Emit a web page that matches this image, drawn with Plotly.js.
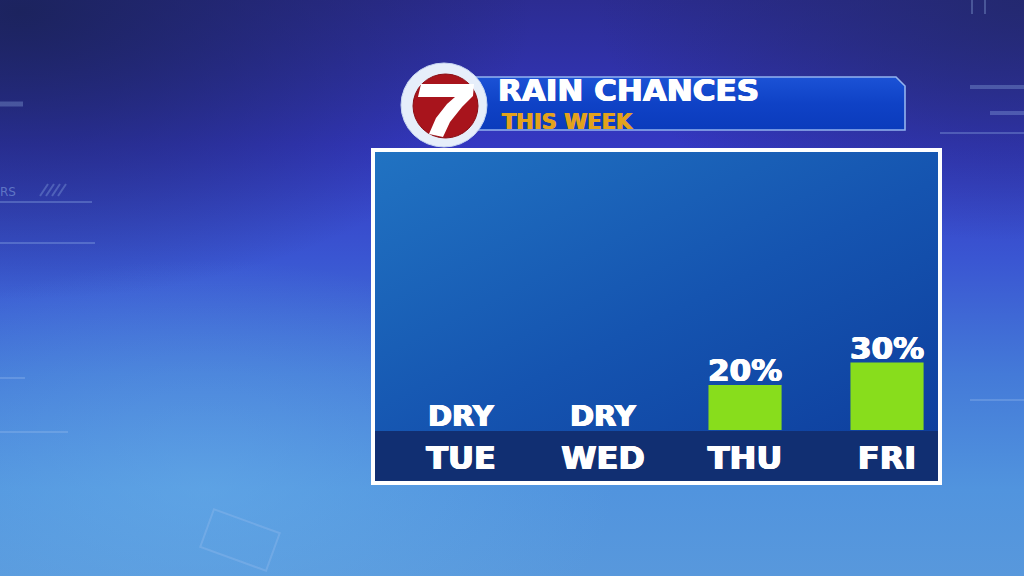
<!DOCTYPE html>
<html>
<head>
<meta charset="utf-8">
<script src="https://cdn.plot.ly/plotly-3.0.1.min.js"></script>
<style>
html,body{margin:0;padding:0;width:1024px;height:576px;overflow:hidden;background:#3a5ccf;}
#chart{width:1024px;height:576px;}
</style>
</head>
<body>
<div id="chart"></div>
<script>
// ---- data ----
const days = ["TUE", "WED", "THU", "FRI"];
const rainChance = [0, 0, 20, 30];
const barLabels = ["DRY", "DRY", "20%", "30%"];
const titleText = "RAIN CHANCES";
const subtitleText = "THIS WEEK";

// ---- helpers (pixel -> paper) ----
const W = 1024, H = 576;
const px = x => x / W;
const py = y => 1 - y / H;
const svgURI = s => "data:image/svg+xml;charset=utf-8," + encodeURIComponent(s);
function pathPx(pts) {
  return "M" + pts.map(p => px(p[0]).toFixed(5) + "," + py(p[1]).toFixed(5)).join(" L") + " Z";
}

const bgSVG = "<svg xmlns='http://www.w3.org/2000/svg' width='1024' height='576' viewBox='0 0 1024 576' preserveAspectRatio='none'>" +
  "<defs>" +
  "<linearGradient id='g' x1='0' y1='0' x2='0' y2='1'>" +
  "<stop offset='0' stop-color='#2c2c92'/>" +
  "<stop offset='0.25' stop-color='#3438c2'/>" +
  "<stop offset='0.45' stop-color='#3a56d2'/>" +
  "<stop offset='0.65' stop-color='#447ad8'/>" +
  "<stop offset='0.85' stop-color='#5194de'/>" +
  "<stop offset='1' stop-color='#5898dc'/>" +
  "</linearGradient>" +
  "<radialGradient id='d' cx='0.02' cy='0.02' r='0.5'>" +
  "<stop offset='0' stop-color='#1a2258' stop-opacity='0.9'/>" +
  "<stop offset='1' stop-color='#1a2258' stop-opacity='0'/>" +
  "</radialGradient>" +
  "<radialGradient id='d2' cx='1' cy='0' r='0.42'>" +
  "<stop offset='0' stop-color='#22286a' stop-opacity='0.85'/>" +
  "<stop offset='1' stop-color='#22286a' stop-opacity='0'/>" +
  "</radialGradient>" +
  "<radialGradient id='l' cx='0.2' cy='0.85' r='0.4'>" +
  "<stop offset='0' stop-color='#6cb4ec' stop-opacity='0.45'/>" +
  "<stop offset='1' stop-color='#6cb4ec' stop-opacity='0'/>" +
  "</radialGradient>" +
  "</defs>" +
  "<rect width='1024' height='576' fill='url(#g)'/>" +
  "<rect width='1024' height='576' fill='url(#d)'/>" +
  "<rect width='1024' height='576' fill='url(#d2)'/>" +
  "<rect width='1024' height='576' fill='url(#l)'/>" +
  "<g stroke='#9fc0f0' stroke-opacity='0.3' stroke-width='2' fill='none'>" +
  "<line x1='0' y1='104' x2='23' y2='104' stroke-width='5'/>" +
  "<line x1='0' y1='202' x2='92' y2='202'/>" +
  "<line x1='0' y1='243' x2='95' y2='243'/>" +
  "<line x1='0' y1='378' x2='25' y2='378'/>" +
  "<line x1='0' y1='432' x2='68' y2='432'/>" +
  "<line x1='970' y1='87' x2='1024' y2='87' stroke-width='4'/>" +
  "<line x1='990' y1='113' x2='1024' y2='113' stroke-width='4'/>" +
  "<line x1='940' y1='133' x2='1024' y2='133'/>" +
  "<line x1='970' y1='400' x2='1024' y2='400'/>" +
  "<line x1='972' y1='0' x2='972' y2='14'/>" +
  "<line x1='985' y1='0' x2='985' y2='14'/>" +
  "<line x1='40' y1='196' x2='48' y2='184'/><line x1='46' y1='196' x2='54' y2='184'/><line x1='52' y1='196' x2='60' y2='184'/><line x1='58' y1='196' x2='66' y2='184'/>" +
  "<rect x='205' y='520' width='70' height='40' transform='rotate(20 240 540)'/>" +
  "</g>" +
  "<text x='0' y='196' font-family='DejaVu Sans' font-size='12' fill='#9fc0f0' fill-opacity='0.45'>RS</text>" +
  "</svg>";

const panelSVG = "<svg xmlns='http://www.w3.org/2000/svg' width='100' height='100' viewBox='0 0 100 100' preserveAspectRatio='none'>" +
  "<defs><linearGradient id='p' x1='0' y1='0' x2='1' y2='1'>" +
  "<stop offset='0' stop-color='#2173c2'/>" +
  "<stop offset='0.55' stop-color='#1554b0'/>" +
  "<stop offset='1' stop-color='#0e3f9e'/>" +
  "</linearGradient></defs>" +
  "<rect width='100' height='100' fill='url(#p)'/></svg>";

// header bar, 440 x 56 px box drawn from x=468,y=76
const headerSVG = "<svg xmlns='http://www.w3.org/2000/svg' width='440' height='56' viewBox='0 0 440 56'>" +
  "<defs><linearGradient id='h' x1='0' y1='0' x2='0' y2='1'>" +
  "<stop offset='0' stop-color='#1b52d6'/>" +
  "<stop offset='0.5' stop-color='#0f42c6'/>" +
  "<stop offset='1' stop-color='#0b3bbc'/>" +
  "</linearGradient></defs>" +
  "<path d='M2 1 L428 1 L437 10 L437 54 L2 54 Z' fill='url(#h)' stroke='#93b3ef' stroke-width='1.6'/></svg>";

const textFont = "DejaVu Sans, Liberation Sans, Arial, sans-serif";
const bold = "0.7px 0 0 #ffffff, -0.7px 0 0 #ffffff, 0 0.4px 0 #ffffff";
const boldGold = "0.5px 0 0 #e3a21c, -0.5px 0 0 #e3a21c";

const trace = {
  type: "bar",
  x: days,
  y: rainChance,
  width: 0.515,
  marker: {
    color: "#88dd1c",
    line: {width: 0}
  },
  hoverinfo: "skip"
};

// value labels placed at each bar top through data coordinates
const labelAnnotations = days.map((d, i) => ({
  x: d, y: rainChance[i], xref: "x", yref: "y",
  text: barLabels[i], showarrow: false,
  xanchor: "center", yanchor: "bottom", yshift: -5,
  font: {family: textFont, size: rainChance[i] === 0 ? 29 : 31, color: "#ffffff", weight: 700, shadow: bold}
}));

const layout = {
  width: W,
  height: H,
  margin: {l: 0, r: 0, t: 0, b: 0},
  paper_bgcolor: "rgba(0,0,0,0)",
  plot_bgcolor: "rgba(0,0,0,0)",
  showlegend: false,
  xaxis: {
    domain: [px(374), px(938)],
    range: [-0.613, 3.359],
    type: "category",
    showgrid: false,
    zeroline: false,
    showline: false,
    ticks: "",
    ticklabelstandoff: 6,
    tickfont: {family: textFont, size: 32, color: "#ffffff", weight: 700, shadow: bold},
    fixedrange: true
  },
  yaxis: {
    domain: [py(430), py(152)],
    range: [0, 123.6],
    showgrid: false,
    zeroline: false,
    showline: false,
    showticklabels: false,
    ticks: "",
    fixedrange: true
  },
  images: [
    {source: svgURI(bgSVG), xref: "paper", yref: "paper", x: 0, y: 1, sizex: 1, sizey: 1,
     xanchor: "left", yanchor: "top", sizing: "stretch", layer: "below"},
    {source: svgURI(panelSVG), xref: "paper", yref: "paper", x: px(374), y: py(151),
     sizex: (938 - 374) / W, sizey: (431 - 151) / H,
     xanchor: "left", yanchor: "top", sizing: "stretch", layer: "below"},
    {source: svgURI(headerSVG), xref: "paper", yref: "paper", x: px(468), y: py(76),
     sizex: 440 / W, sizey: 56 / H,
     xanchor: "left", yanchor: "top", sizing: "stretch", layer: "below"}
  ],
  shapes: [
    // dark band behind day labels
    {type: "rect", xref: "paper", yref: "paper", layer: "below",
     x0: px(374), x1: px(938), y0: py(431), y1: py(482),
     fillcolor: "#112f72", line: {width: 0}},
    // panel white frame
    {type: "rect", xref: "paper", yref: "paper", layer: "above",
     x0: px(373), x1: px(940), y0: py(150), y1: py(483),
     fillcolor: "rgba(0,0,0,0)", line: {color: "#ffffff", width: 4}},
    // logo outer ring
    {type: "circle", xref: "paper", yref: "paper", layer: "above",
     x0: px(401), x1: px(487), y0: py(147), y1: py(63),
     fillcolor: "#e6eefa", line: {color: "#c9d8f2", width: 1}},
    // logo red disc
    {type: "circle", xref: "paper", yref: "paper", layer: "above",
     x0: px(413), x1: px(478), y0: py(138), y1: py(74),
     fillcolor: "#a8141c", line: {color: "#8a0e14", width: 1}},
    // the "7"
    {type: "path", xref: "paper", yref: "paper", layer: "above",
     path: pathPx([[421, 84], [474, 84], [473, 96], [462, 107], [450, 122], [443, 137], [429, 134], [436, 118], [447, 104], [455, 97], [418, 97]]),
     fillcolor: "#ffffff", line: {width: 0}}
  ],
  annotations: [
    {text: titleText, xref: "paper", yref: "paper", x: px(497), y: py(90),
     xanchor: "left", yanchor: "middle", showarrow: false, borderpad: 0,
     font: {family: textFont, size: 31, color: "#ffffff", weight: 700, shadow: bold}},
    {text: subtitleText, xref: "paper", yref: "paper", x: px(501), y: py(121.5),
     xanchor: "left", yanchor: "middle", showarrow: false, borderpad: 0,
     font: {family: textFont, size: 21, color: "#e3a21c", weight: 700, shadow: boldGold}}
  ].concat(labelAnnotations)
};

Plotly.newPlot("chart", [trace], layout, {displayModeBar: false, staticPlot: true});
</script>
</body>
</html>
